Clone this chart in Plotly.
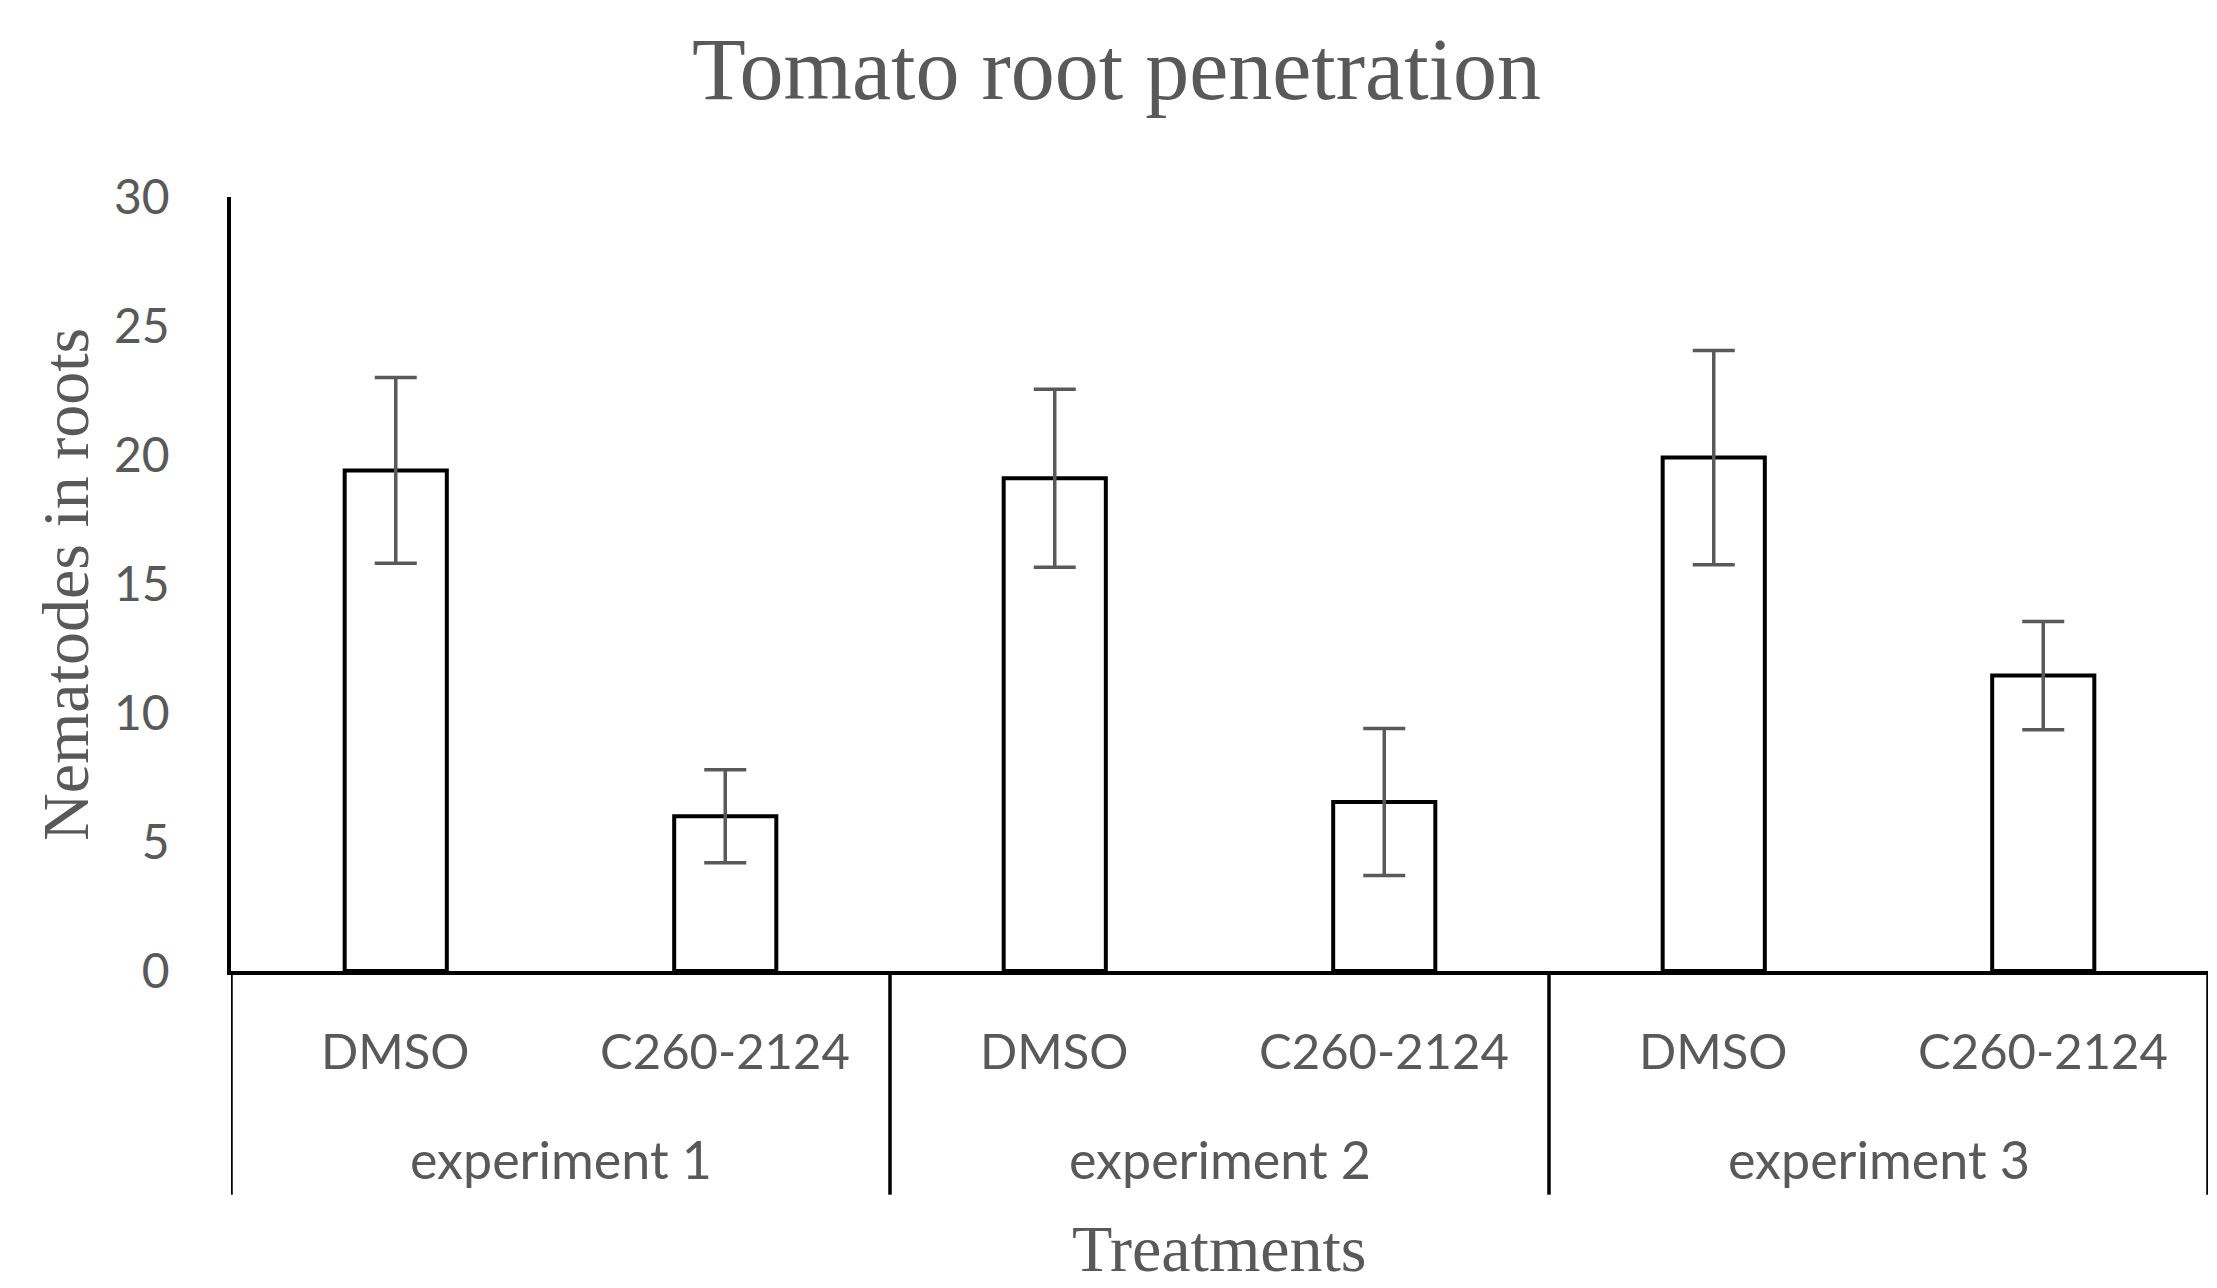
import plotly.graph_objects as go

# ---- data ----
groups = ["experiment 1", "experiment 2", "experiment 3"]
treatments = ["DMSO", "C260-2124"]
values = [19.4, 6.0, 19.1, 6.55, 19.9, 11.45]
errors = [3.6, 1.8, 3.45, 2.85, 4.15, 2.1]
y_ticks = [0, 5, 10, 15, 20, 25, 30]

title = "Tomato root penetration"
y_title = "Nematodes in roots"
x_title = "Treatments"

# ---- derived positions (category index on a numeric axis) ----
n_t = len(treatments)
cat_labels = [t for g in groups for t in treatments]
xpos = [i + 0.5 for i in range(len(cat_labels))]
group_centers = [gi * n_t + n_t / 2 for gi in range(len(groups))]
group_edges = [gi * n_t for gi in range(len(groups) + 1)]

GRAY = "#595959"
SANS = "Lato, 'Liberation Sans', sans-serif"
SERIF = "'Liberation Serif', 'Times New Roman', serif"

fig = go.Figure()
fig.add_trace(go.Bar(
    x=xpos, y=values,
    marker=dict(color="white", line=dict(color="black", width=4)),
    error_y=dict(type="data", array=errors, visible=True,
                 color=GRAY, thickness=3.5, width=21),
    width=0.31,
    showlegend=False,
    hoverinfo="y",
))

# dividers of the category table
shapes = []
bottom = -0.289
for e in group_edges:
    shapes.append(dict(type="line", xref="x", yref="paper", x0=e, x1=e,
                       y0=bottom, y1=0, line=dict(color="black", width=3.5)))

annotations = []
for xp, lab in zip(xpos, cat_labels):
    annotations.append(dict(x=xp, y=-0.102, xref="x", yref="paper", text=lab,
                            showarrow=False, yanchor="middle", xanchor="center",
                            font=dict(family=SANS, size=49, color=GRAY)))
for gc, g in zip(group_centers, groups):
    annotations.append(dict(x=gc, y=-0.243, xref="x", yref="paper", text=g,
                            showarrow=False, yanchor="middle", xanchor="center",
                            font=dict(family=SANS, size=52, color=GRAY)))
annotations.append(dict(x=group_centers[1], y=-0.359, xref="x", yref="paper",
                        text=x_title, showarrow=False, yanchor="middle",
                        font=dict(family=SERIF, size=66, color=GRAY)))
annotations.append(dict(x=-0.084, y=0.5, xref="paper", yref="paper", text=y_title,
                        textangle=-90, showarrow=False, xanchor="center", yanchor="middle",
                        font=dict(family=SERIF, size=66, color=GRAY)))

fig.update_layout(
    width=2217, height=1288,
    paper_bgcolor="white", plot_bgcolor="white",
    margin=dict(l=223, r=17, t=189, b=325),
    title=dict(text=title, x=0.5, xref="container", xanchor="center",
               y=1 - 60 / 1288, yref="container", yanchor="middle",
               font=dict(family=SERIF, size=88, color=GRAY)),
    xaxis=dict(range=[0, len(cat_labels)], showticklabels=False, ticks="",
               showgrid=False, zeroline=False, showline=True,
               linecolor="black", linewidth=3.5),
    yaxis=dict(range=[0, 30], tickvals=y_ticks, showgrid=False, zeroline=False,
               showline=True, linecolor="black", linewidth=3.5, ticks="",
               ticklabelstandoff=48,
               tickfont=dict(family=SANS, size=48, color=GRAY)),
    shapes=shapes,
    annotations=annotations,
)

fig.write_html("out.html")
